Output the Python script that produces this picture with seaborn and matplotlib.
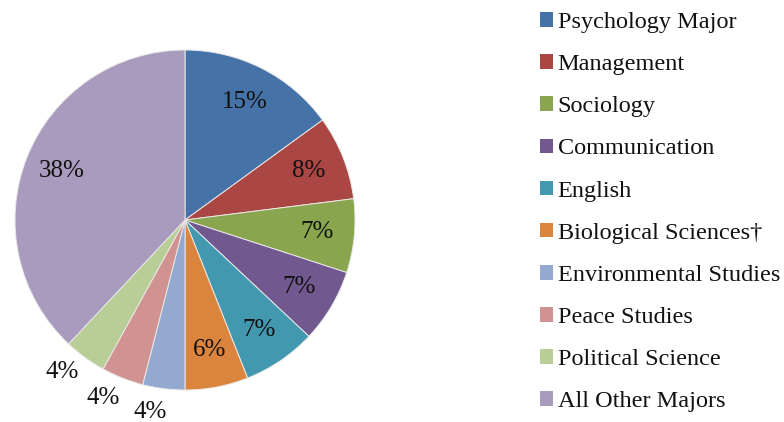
import matplotlib
matplotlib.use("Agg")
import matplotlib.pyplot as plt
import numpy as np
import seaborn as sns

majors = [
    "Psychology Major",
    "Management",
    "Sociology",
    "Communication",
    "English",
    "Biological Sciences\u2020",
    "Environmental Studies",
    "Peace Studies",
    "Political Science",
    "All Other Majors",
]
shares = [15, 8, 7, 7, 7, 6, 4, 4, 4, 38]
slice_colors = [
    "#4572A7", "#AA4643", "#89A54E", "#71588F", "#4198AF",
    "#DB843D", "#93A9CF", "#D19392", "#B9CD96", "#A99BBD",
]

sns.set_theme(style="white")
plt.rcParams["font.family"] = ["Liberation Serif", "DejaVu Serif"]

palette = sns.color_palette(slice_colors)

fig = plt.figure(figsize=(7.84, 4.22), dpi=100)
# pie axes: 340x340 px, centred at (185, 220) px from top-left
ax = fig.add_axes([15 / 784, 32 / 422, 340 / 784, 340 / 422])

wedges, texts, autotexts = ax.pie(
    shares,
    colors=palette,
    startangle=90,
    counterclock=False,
    autopct="%d%%",
    pctdistance=0.78,
    wedgeprops=dict(edgecolor="#e8e8e8", linewidth=0.7),
    textprops=dict(fontsize=18, color="#111111"),
)
ax.set_xlim(-1, 1)
ax.set_ylim(-1, 1)
ax.set_aspect("equal")
ax.axis("off")

# small slices get their labels outside the pie
for w, t, v in zip(wedges, autotexts, shares):
    if v < 5:
        mid = np.deg2rad((w.theta1 + w.theta2) / 2 - 3)
        r = 1.15
        t.set_position((r * np.cos(mid), r * np.sin(mid)))

leg = fig.legend(
    wedges,
    majors,
    loc="upper left",
    bbox_to_anchor=(540 / 784, 1 - 12 / 422),
    frameon=False,
    fontsize=17.5,
    handlelength=0.55,
    handleheight=0.55,
    handletextpad=0.18,
    labelspacing=0.87,
    borderpad=0,
    borderaxespad=0,
)
for h in leg.legend_handles:
    h.set_edgecolor("none")
for t in leg.get_texts():
    t.set_color("#111111")

fig.savefig("out.png", dpi=100)
